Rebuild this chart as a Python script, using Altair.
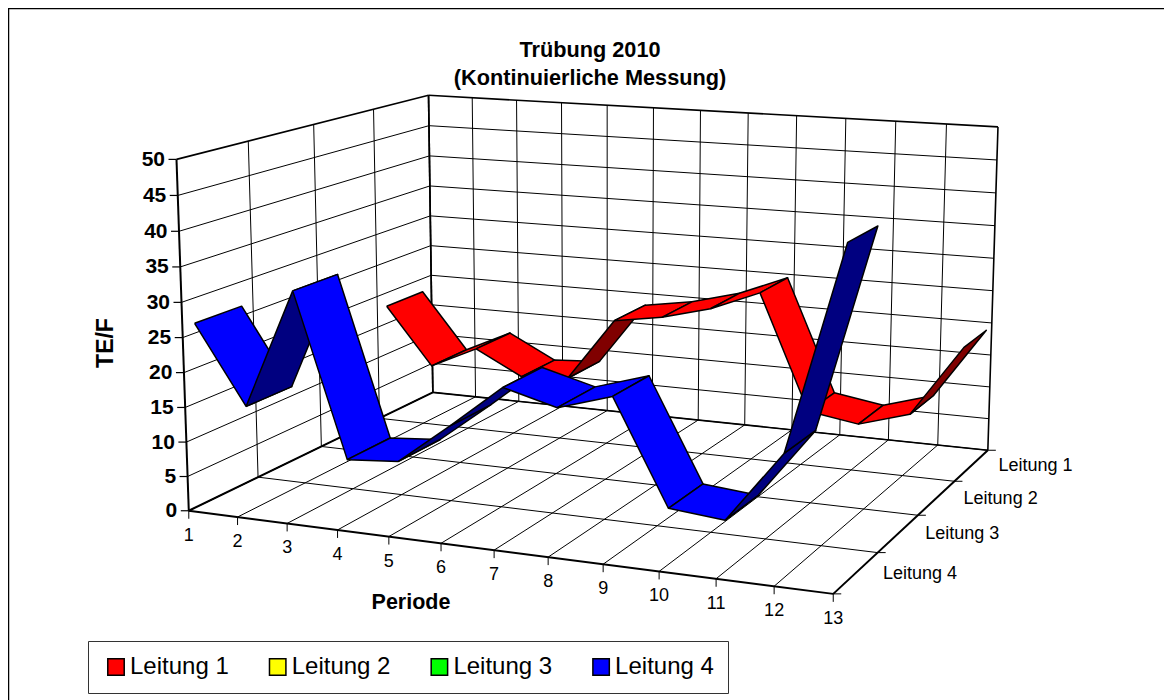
import altair as alt
import numpy as np
import pandas as pd

periods = list(range(1, 14))
series_names = ["Leitung 1", "Leitung 2", "Leitung 3", "Leitung 4"]
series_colors = ["#FF0000", "#FFFF00", "#00FF00", "#0000FF"]
leitung_1 = [17.8, 8.7, 12.2, 8.4, 8.9, 18.8, 20.0, 22.0, 25.1, 7.5, 6.3, 8.6, 19.5]
leitung_4 = [26.4, 15.2, 32.3, 9.2, 9.8, 15.6, 21.7, 19.7, 22.0, 7.7, 7.0, 16.8, 44.8]
value_ticks = list(range(0, 55, 5))
y_max = 50

# Perspective camera of the 3-D box, fitted to the box corners (u = period, w = depth, v = value)
box = {(0, 0, 1): (176.5, 159), (0, 0, 0): (189, 511), (0, 1, 1): (428.5, 95.5),
       (0, 1, 0): (432.7, 392.3), (1, 1, 1): (998, 127), (1, 1, 0): (988, 450), (1, 0, 0): (833, 594)}
A = []
for (u, w, v), (px, py) in box.items():
    X = [u, w, v, 1]
    A.append(X + [0, 0, 0, 0] + [-px * c for c in X])
    A.append([0, 0, 0, 0] + X + [-py * c for c in X])
H = np.linalg.svd(np.array(A, float))[2][-1].reshape(3, 4)


def proj(u, w, v):
    r = H @ np.array([u, w, v, 1.0])
    return float(r[0] / r[2]), float(r[1] / r[2])


def pu(p):
    return (p - 1) / 12


def pv(val):
    return val / y_max


W, H_PX = 1156, 692
xs = alt.Scale(domain=[8, 8 + W], range=[0, W], nice=False, zero=False)
ys = alt.Scale(domain=[8, 8 + H_PX], range=[0, H_PX], nice=False, zero=False)
X_ = alt.X("x:Q", scale=xs, axis=None)
Y_ = alt.Y("y:Q", scale=ys, axis=None)

# ---------- frame grid ----------
segs = []


def seg(a, b, sw):
    (x0, y0), (x1, y1) = proj(*a), proj(*b)
    segs.append(dict(x=x0, y=y0, x2=x1, y2=y1, sw=sw))


for i in range(13):
    u = i / 12
    seg((u, 1, 0), (u, 1, 1), 1.6 if i in (0, 12) else 1)
    seg((u, 0, 0), (u, 1, 0), 1)
for j in range(5):
    w = j / 4
    seg((0, w, 0), (0, w, 1), 2 if j == 0 else (1.6 if j == 4 else 1))
    if j not in (0, 4):
        seg((0, w, 0), (1, w, 0), 1)
for val in value_ticks:
    v = pv(val)
    top = val == y_max
    seg((0, 0, v), (0, 1, v), 1.6 if top else 1)
    seg((0, 1, v), (1, 1, v), 1.6 if top else 1)
seg((0, 0, 0), (1, 0, 0), 2)
seg((1, 0, 0), (1, 1, 0), 2)
seg((0, 0, 0), (0, 1, 0), 2)
seg((0, 1, 0), (1, 1, 0), 1.6)

ticks = []
tick_text, y_text, depth_text = [], [], []
for p in periods:
    x0, y0 = proj(pu(p), 0, 0)
    ticks.append(dict(x=x0, y=y0, x2=x0, y2=y0 + 8, sw=1))
    tick_text.append(dict(x=x0, y=y0 + 25, t=str(p)))
for val in value_ticks:
    x0, y0 = proj(0, 0, pv(val))
    ticks.append(dict(x=x0 - 8, y=y0, x2=x0, y2=y0, sw=1.2))
    y_text.append(dict(x=x0 - 11.5, y=y0 + 0.5, t=str(val)))
for j in range(5):
    x0, y0 = proj(1, j / 4, 0)
    ticks.append(dict(x=x0, y=y0, x2=x0 + 8, y2=y0, sw=1))
for j, name in enumerate(series_names):
    x0, y0 = proj(1, 1 - (j + 0.5) / 4, 0)
    depth_text.append(dict(x=x0 + 27, y=y0 + 1, t=name))

# ---------- ribbons ----------
rows = []
pid = 0
for name, vals, cell, bright, dark in (
    ("Leitung 1", leitung_1, 3, "#FF0000", "#800000"),
    ("Leitung 4", leitung_4, 0, "#0000FF", "#000080"),
):
    w0, w1 = (cell + 1 / 6) / 4, (cell + 5 / 6) / 4
    for k in range(len(vals) - 1):
        u0, u1 = pu(periods[k]), pu(periods[k + 1])
        v0, v1 = pv(vals[k]), pv(vals[k + 1])
        quad = [proj(u0, w0, v0), proj(u0, w1, v0), proj(u1, w1, v1), proj(u1, w0, v1)]
        area = sum(quad[i][0] * quad[(i + 1) % 4][1] - quad[(i + 1) % 4][0] * quad[i][1] for i in range(4))
        shade = bright if area > 0 else dark
        for n, (qx, qy) in enumerate(quad + [quad[0]]):
            rows.append(dict(pid=f"{pid:03d}", n=n, x=qx, y=qy, shade=shade))
        pid += 1
ribbons = pd.DataFrame(rows)

frame = alt.Chart(pd.DataFrame(segs)).mark_rule(color="black").encode(
    x=X_, y=Y_, x2="x2:Q", y2="y2:Q", strokeWidth=alt.StrokeWidth("sw:Q", scale=None))
tick_marks = alt.Chart(pd.DataFrame(ticks)).mark_rule(color="black").encode(
    x=X_, y=Y_, x2="x2:Q", y2="y2:Q", strokeWidth=alt.StrokeWidth("sw:Q", scale=None))

ribbon = alt.Chart(ribbons).mark_line(color="black", strokeWidth=1.5, strokeJoin="round").encode(
    x=alt.X("x:Q", scale=xs, axis=None, sort=None),
    y=Y_,
    detail="pid:N",
    order="n:Q",
    fill=alt.Fill("shade:N", scale=None, legend=None),
)

FONT = "Liberation Sans"


def text_layer(rows_, size, bold=False, align="center", color="#000000", angle=None):
    kw = dict(font=FONT, fontSize=size, align=align, baseline="middle", color=color,
              fontWeight="bold" if bold else "normal")
    if angle is not None:
        kw["angle"] = angle
    return alt.Chart(pd.DataFrame(rows_)).mark_text(**kw).encode(x=X_, y=Y_, text="t:N")


title = text_layer([dict(x=590, y=50, t="Trübung 2010"),
                    dict(x=590, y=77.5, t="(Kontinuierliche Messung)")], 21.7, bold=True)
periode = text_layer([dict(x=411, y=602.5, t="Periode")], 21.5, bold=True)
te = text_layer([dict(x=106, y=343, t="TE/F")], 23, bold=True, angle=270)
y_labels = text_layer(y_text, 21, bold=True, align="right")
p_labels = text_layer(tick_text, 18)
d_labels = text_layer(depth_text, 18, align="left")

# outer frame of the chart object
outer = alt.Chart(pd.DataFrame([
    dict(x=8, y=8.5, x2=1172, y2=8.5, sw=1.5),
    dict(x=8.5, y=8, x2=8.5, y2=700, sw=1.5),
])).mark_rule(color="black").encode(
    x=X_, y=Y_, x2="x2:Q", y2="y2:Q", strokeWidth=alt.StrokeWidth("sw:Q", scale=None))

legend_src = alt.Chart(pd.DataFrame(dict(name=series_names, x=[400] * 4, y=[400] * 4))).mark_square(
    size=0, stroke="black").encode(
    x=X_, y=Y_,
    color=alt.Color("name:N", scale=alt.Scale(domain=series_names, range=series_colors),
                    legend=alt.Legend(
                        orient="none", legendX=80, legendY=633, direction="horizontal", columns=4,
                        title=None, fillColor="white", strokeColor="#333333", padding=14,
                        symbolType="square", symbolSize=270, symbolStrokeColor="black",
                        symbolStrokeWidth=1.5, symbolOpacity=1, symbolOffset=2,
                        labelFont=FONT, labelFontSize=24, labelColor="#000000", labelOffset=2,
                        columnPadding=34.7, labelLimit=200)),
)

chart = alt.layer(outer, frame, tick_marks, ribbon, title, periode, te, y_labels, p_labels, d_labels, legend_src).properties(
    width=W, height=H_PX, padding=0, background="white",
    autosize=alt.AutoSizeParams(type="none"),
).configure_view(stroke=None)

chart.save("out.html", embed_options={"renderer": "svg", "actions": False})
